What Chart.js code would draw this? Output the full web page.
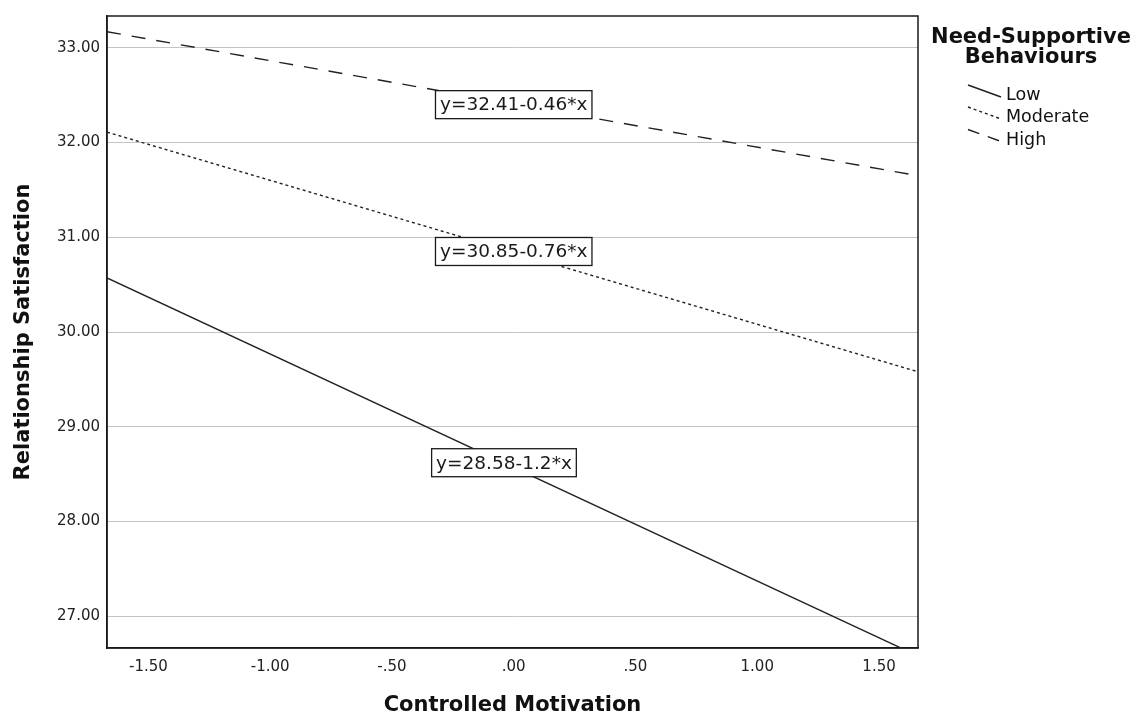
<!DOCTYPE html>
<html>
<head>
<meta charset="utf-8">
<script src="https://cdn.jsdelivr.net/npm/chart.js@4/dist/chart.umd.min.js"></script>
<style>
  html, body { margin: 0; padding: 0; background: #fff; }
  #wrap { width: 1137px; height: 719px; position: relative; }
</style>
</head>
<body>
<div id="wrap"><canvas id="chart"></canvas></div>
<script>
/* ---------- Data ---------- */
const groups = ['Low', 'Moderate', 'High'];
const xEnds = [-1.67, 1.66];
const lowY = [30.57, 26.58];
const moderateY = [32.11, 29.58];
const highY = [33.17, 31.65];

const xTicks = [-1.5, -1, -0.5, 0, 0.5, 1, 1.5];
const xTickLabels = ['-1.50', '-1.00', '-.50', '.00', '.50', '1.00', '1.50'];
const yTicks = [27, 28, 29, 30, 31, 32, 33];
const yTickLabels = ['27.00', '28.00', '29.00', '30.00', '31.00', '32.00', '33.00'];

const eqText = ['y=28.58-1.2*x', 'y=30.85-0.76*x', 'y=32.41-0.46*x'];
const eqX = [-0.04, 0, 0];
const eqY = [28.62, 30.85, 32.40];

const FONT = '"DejaVu Sans", sans-serif';
const INK = '#222';
const dashes = [[], [3, 3], [14, 11]];
const series = [lowY, moderateY, highY];

const datasets = groups.map((g, i) => ({
  label: g,
  data: xEnds.map((x, j) => ({ x, y: series[i][j] })),
  borderColor: INK,
  borderWidth: 1.4,
  borderDash: dashes[i],
  pointRadius: 0,
  fill: false,
  tension: 0,
}));

/* ---------- Overlay: frame, titles, equation boxes, legend ---------- */
const overlay = {
  id: 'overlay',
  afterDatasetsDraw(chart) {
    const { ctx, chartArea: a, scales } = chart;
    ctx.save();

    // frame top/right
    ctx.strokeStyle = '#1a1a1a';
    ctx.lineWidth = 1.5;
    ctx.strokeRect(a.left, a.top, a.right - a.left, a.bottom - a.top);

    // equation labels
    ctx.font = '18.5px ' + FONT;
    ctx.textAlign = 'center';
    ctx.textBaseline = 'middle';
    eqText.forEach((t, i) => {
      const px = scales.x.getPixelForValue(eqX[i]);
      const py = scales.y.getPixelForValue(eqY[i]);
      const w = ctx.measureText(t).width + 9;
      const h = 28;
      ctx.fillStyle = '#fff';
      ctx.fillRect(px - w / 2, py - h / 2, w, h);
      ctx.strokeStyle = '#1a1a1a';
      ctx.lineWidth = 1.3;
      ctx.strokeRect(px - w / 2, py - h / 2, w, h);
      ctx.fillStyle = '#1a1a1a';
      ctx.fillText(t, px, py + 1);
    });

    // axis titles
    ctx.fillStyle = '#111';
    ctx.font = 'bold 21px ' + FONT;
    ctx.textAlign = 'center';
    ctx.textBaseline = 'middle';
    ctx.fillText('Controlled Motivation', (a.left + a.right) / 2, 706);
    ctx.save();
    ctx.translate(24, (a.top + a.bottom) / 2);
    ctx.rotate(-Math.PI / 2);
    ctx.fillText('Relationship Satisfaction', 0, 0);
    ctx.restore();

    // legend
    ctx.textBaseline = 'alphabetic';
    ctx.fillText('Need-Supportive', 1031, 43);
    ctx.fillText('Behaviours', 1031, 63);
    ctx.font = '17.5px ' + FONT;
    ctx.textAlign = 'left';
    const baseY = [100, 122, 144.5];
    chart.data.datasets.forEach((ds, i) => {
      const y0 = baseY[i] - 15;
      ctx.strokeStyle = ds.borderColor;
      ctx.lineWidth = ds.borderWidth;
      ctx.setLineDash(i === 2 ? [12, 9] : ds.borderDash);
      ctx.beginPath();
      ctx.moveTo(968, y0);
      ctx.lineTo(1001, y0 + 12);
      ctx.stroke();
      ctx.setLineDash([]);
      ctx.fillStyle = '#111';
      ctx.fillText(ds.label, 1006, baseY[i]);
    });

    ctx.restore();
  },
};

new Chart(document.getElementById('chart'), {
  type: 'line',
  data: { datasets },
  options: {
    responsive: true,
    maintainAspectRatio: false,
    animation: false,
    layout: { padding: { left: 0, right: 219, top: 13, bottom: 0 } },
    plugins: { legend: { display: false }, tooltip: { enabled: false } },
    scales: {
      x: {
        type: 'linear',
        min: xEnds[0],
        max: xEnds[1],
        afterFit: (s) => { s.height = 71; },
        afterBuildTicks: (s) => { s.ticks = xTicks.map((v) => ({ value: v })); },
        grid: { display: false, drawTicks: false },
        border: { display: true, color: '#1a1a1a', width: 1.5 },
        ticks: {
          padding: 10,
          color: INK,
          font: { family: FONT, size: 15 },
          maxRotation: 0,
          callback: (v) => xTickLabels[xTicks.indexOf(v)],
        },
      },
      y: {
        type: 'linear',
        min: 26.664,
        max: 33.336,
        afterFit: (s) => { s.width = 107; },
        afterBuildTicks: (s) => { s.ticks = yTicks.map((v) => ({ value: v })); },
        grid: { color: '#c4c4c4', lineWidth: 1, drawTicks: false },
        border: { display: true, color: '#1a1a1a', width: 1.5 },
        ticks: {
          padding: 7,
          color: INK,
          font: { family: FONT, size: 15 },
          callback: (v) => yTickLabels[yTicks.indexOf(v)],
        },
      },
    },
  },
  plugins: [overlay],
});
</script>
</body>
</html>
